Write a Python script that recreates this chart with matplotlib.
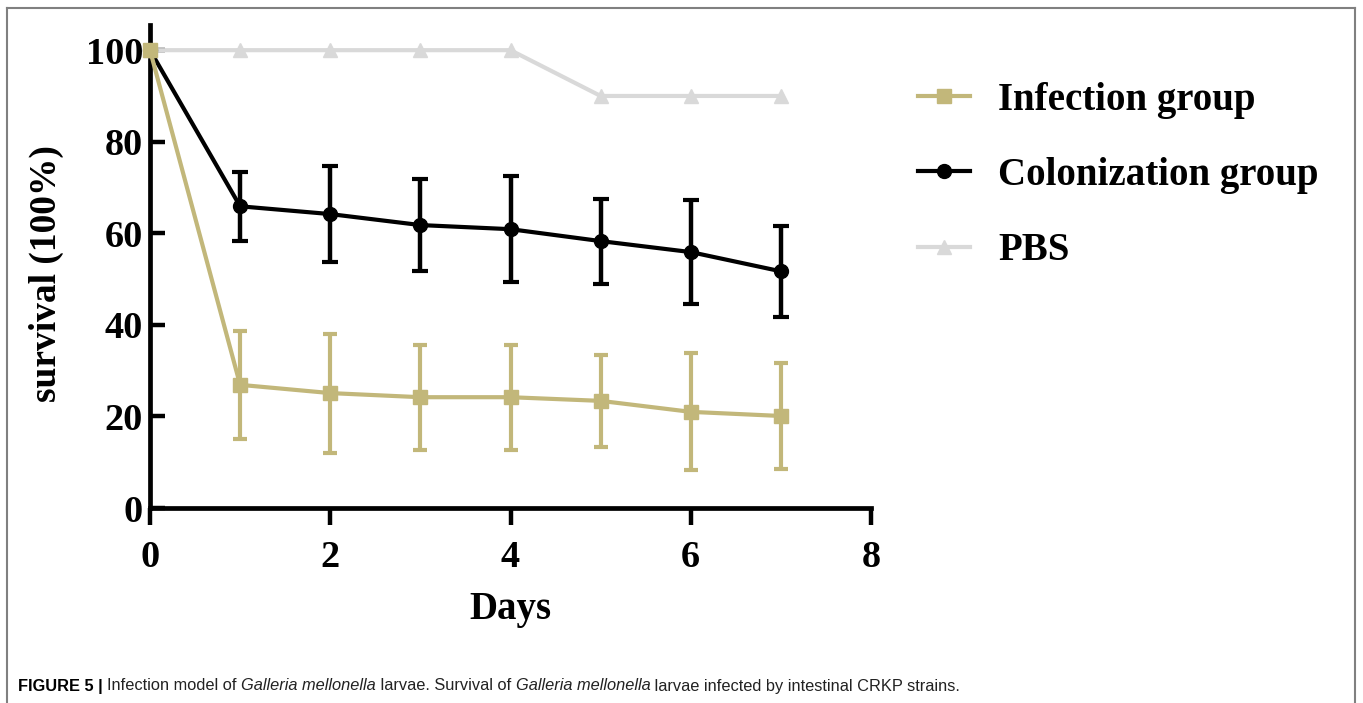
import matplotlib
matplotlib.use("Agg")
import matplotlib.pyplot as plt
from matplotlib.lines import Line2D
import numpy as np

days = [0, 1, 2, 3, 4, 5, 6, 7]
infection = [100, 26.9, 25.1, 24.2, 24.2, 23.4, 21.0, 20.1]
infection_err = [0, 11.8, 13.0, 11.5, 11.5, 10.0, 12.8, 11.5]
colonization = [100, 65.9, 64.2, 61.8, 60.9, 58.3, 55.9, 51.7]
colonization_err = [0, 7.5, 10.5, 10.0, 11.6, 9.3, 11.4, 10.0]
pbs = [100, 100, 100, 100, 100, 90, 90, 90]
labels = ["Infection group", "Colonization group", "PBS"]
xticks = [0, 2, 4, 6, 8]
yticks = [0, 20, 40, 60, 80, 100]

C_INF = "#c2b77a"
C_COL = "#000000"
C_PBS = "#d9d9d9"

W, H = 1363, 703
fig = plt.figure(figsize=(W / 100, H / 100), dpi=100)
serif = "Liberation Serif"

ax = fig.add_axes([150 / W, 1 - 508 / H, (871 - 150) / W, (508 - 25) / H])
ax.set_xlim(0, 8)
ax.set_ylim(0, 105.5)

ax.plot(days, pbs, color=C_PBS, lw=3.0, marker="^", ms=10, mec=C_PBS, mfc=C_PBS,
        label=labels[2], zorder=2, clip_on=False)
ax.errorbar(days, colonization, yerr=colonization_err, fmt="none", ecolor=C_COL,
            elinewidth=3.2, capsize=5.8, capthick=3.0, zorder=3)
ax.plot(days, colonization, color=C_COL, lw=3.0, marker="o", ms=10,
        label=labels[1], zorder=4, clip_on=False)
ax.errorbar(days, infection, yerr=infection_err, fmt="none", ecolor=C_INF,
            elinewidth=3.0, capsize=5.2, capthick=3.0, zorder=5)
ax.plot(days, infection, color=C_INF, lw=3.0, marker="s", ms=10.5,
        label=labels[0], zorder=6, clip_on=False)

for s in ["top", "right"]:
    ax.spines[s].set_visible(False)
for s in ["left", "bottom"]:
    ax.spines[s].set_linewidth(3.4)
    ax.spines[s].set_zorder(1)
ax.set_xticks(xticks)
ax.set_yticks(yticks)
ax.tick_params(axis="x", width=3.2, length=12, direction="out", pad=11)
ax.tick_params(axis="y", width=3.2, length=11, direction="in", pad=5)
for lab in ax.get_xticklabels() + ax.get_yticklabels():
    lab.set_fontfamily(serif)
    lab.set_fontweight("bold")
    lab.set_fontsize(27.5)

ax.set_xlabel("Days", fontfamily=serif, fontweight="bold", fontsize=28)
ax.xaxis.set_label_coords(0.5, -0.172)
ax.set_ylabel("survival (100%)", fontfamily=serif, fontweight="bold", fontsize=27)
ax.yaxis.set_label_coords(-0.119, 0.4845)

handles, labs = ax.get_legend_handles_labels()
order = [labs.index(l) for l in labels]
leg = fig.legend([handles[i] for i in order], [labs[i] for i in order],
                 loc="upper left", bbox_to_anchor=(918 / W, 1 - 82 / H),
                 frameon=False, prop={"family": serif, "weight": "bold", "size": 28},
                 handlelength=1.34, handletextpad=0.72, labelspacing=0.98, borderpad=0,
                 borderaxespad=0)

# caption
fam = ["Liberation Sans Narrow", "Liberation Sans"]
cy = 1 - 686 / H
fs = 11.8
t = fig.text(18 / W, cy, "FIGURE 5 | ", fontfamily=fam, fontweight="bold", fontsize=fs, va="center")
parts = [("Infection model of ", "normal"), ("Galleria mellonella", "italic"),
         (" larvae. Survival of ", "normal"), ("Galleria mellonella", "italic"),
         (" larvae infected by intestinal CRKP strains.", "normal")]
fig.canvas.draw()
r = fig.canvas.get_renderer()
x = t.get_window_extent(r).x1
for txt, style in parts:
    tt = fig.text(x / W, cy, txt, fontfamily=fam, style=style, fontsize=fs, va="center", color="#222222")
    x = tt.get_window_extent(r).x1

# frame
fc = "#808080"
fig.add_artist(Line2D([7 / W, 7 / W], [0, 1 - 8 / H], color=fc, lw=1.5, transform=fig.transFigure))
fig.add_artist(Line2D([7 / W, 1355 / W], [1 - 8 / H, 1 - 8 / H], color=fc, lw=1.5, transform=fig.transFigure))
fig.add_artist(Line2D([1355 / W, 1355 / W], [0, 1 - 8 / H], color=fc, lw=1.5, transform=fig.transFigure))

fig.savefig("out.png", dpi=100)
